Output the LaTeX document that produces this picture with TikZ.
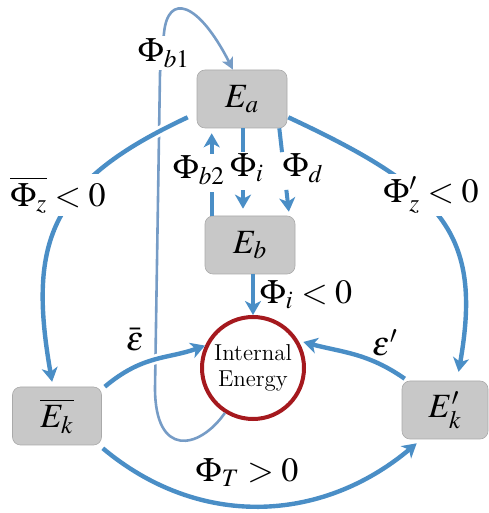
\documentclass[tikz,border=0pt]{standalone}
\usepackage{mathptmx}
\usetikzlibrary{arrows.meta,positioning,calc}
\definecolor{flowblue}{RGB}{74,142,198}
\definecolor{tubeblue}{RGB}{118,156,198}
\definecolor{ringred}{RGB}{165,25,30}
\definecolor{boxgray}{RGB}{200,200,200}
\tikzset{
  ebox/.style={rectangle, rounded corners=4pt, fill=boxgray, draw=boxgray!85!black, line width=0.3pt,
    minimum width=45pt, minimum height=29pt, inner sep=0pt, font=\fontsize{17}{20}\selectfont},
  flowln/.style={-{Stealth[length=7pt,width=8pt,inset=2pt]}, line width=2.2pt, flowblue},
  dashln/.style={flowln, line width=2pt, dash pattern=on 12pt off 19pt},
  halo/.style={preaction={draw=white, line width=5pt}},
  tubeln/.style={-{Stealth[length=6pt,width=6pt,inset=1.5pt]}, line width=1.3pt, tubeblue},
  flab/.style={fill=white, inner sep=1.5pt, font=\fontsize{17}{20}\selectfont},
  elab/.style={inner sep=1pt, font=\fontsize{17}{20}\selectfont},
}

\begin{document}
\begin{tikzpicture}[x=0.5pt,y=0.5pt]
  \useasboundingbox (0,0) rectangle (488,513);
  % energy boxes
  \node[ebox] (Ea) at (242,414) {$E_a$};
  \node[ebox] (Eb) at (250,268) {$E_b$};
  \node[ebox, minimum width=44.5pt] (Ekbar) at (57,97) {$\overline{E_k}$};
  \node[ebox, minimum width=43pt] (Ekp) at (445,103) {$E'_k$};
  % internal energy
  \node[circle, draw=ringred, line width=2pt, fill=white, minimum size=51pt, inner sep=0pt,
    align=center, font=\fontsize{11.5}{13}\selectfont] (IE) at (253,145) {Internal\\Energy};
  % loop b1, goes under the arcs
  \draw[tubeln] (IE.238) .. controls +(235:45) and (155,55) .. (155,125) -- (160,440) -- (164,480)
    .. controls (168,520) and (198,512) .. ($(Ea.north)+(-9,0)$);
  \node[flab] (phib1) at (164,460) {$\Phi_{b1}$};
  % big arcs down to the kinetic boxes
  \draw[flowln, halo, shorten >=2.5pt] ($(Ea.south west)+(-9,11)$) .. controls +(205:150) and +(100:150) .. ([xshift=-2pt]Ekbar.north);
  \draw[flowln, shorten >=4.5pt] ($(Ea.south east)+(1,11)$) .. controls +(-25:170) and +(80:150) .. ([xshift=6pt]Ekp.north);
  \node[flab] (phizbar) at (58,318) {$\overline{\Phi_z}<0$};
  \node[flab] (phizp) at (431,318) {$\Phi'_z<0$};
  % exchanges between Ea and Eb
  \draw[dashln, shorten >=2.5pt] ($(Eb.north west)+(7,0)$) -- ($(Ea.south west)+(15,0)$);
  \draw[dashln, shorten >=3.5pt] ($(Ea.south)+(1,0)$) -- ($(Eb.north)+(-7,0)$);
  \draw[dashln, shorten >=2pt] ($(Ea.south east)+(-8,0)$) -- ($(Eb.north east)+(-6,0)$);
  \node[elab] (phib2) at (199,343) {$\Phi_{b2}$};
  \node[elab] (phii) at (247,345) {$\Phi_i$};
  \node[elab] (phid) at (303,345) {$\Phi_d$};
  % into internal energy
  \draw[flowln] (Eb.south -| IE.north) -- (IE.north);
  \node[elab] (phiineg) at (306,218) {$\Phi_i<0$};
  \draw[flowln, halo] ($(Ekbar.north east)+(3,0)$) .. controls +(40:50) and +(200:40) .. (IE.155);
  \node[elab] (epsbar) at (135,173) {$\bar{\varepsilon}$};
  \draw[flowln, shorten >=2.5pt] ($(Ekp.north west)+(3,2)$) .. controls +(145:45) and +(-15:45) .. (IE.31);
  \node[elab] (epsp) at (385,170) {$\varepsilon'$};
  % transfer along the bottom
  \draw[flowln] ($(Ekbar.south east)+(1,-3)$) .. controls +(-40:125) and +(220:125) .. ($(Ekp.south west)+(15,-4)$);
  \node[elab] (phiT) at (247,40) {$\Phi_T>0$};
\end{tikzpicture}
\end{document}
